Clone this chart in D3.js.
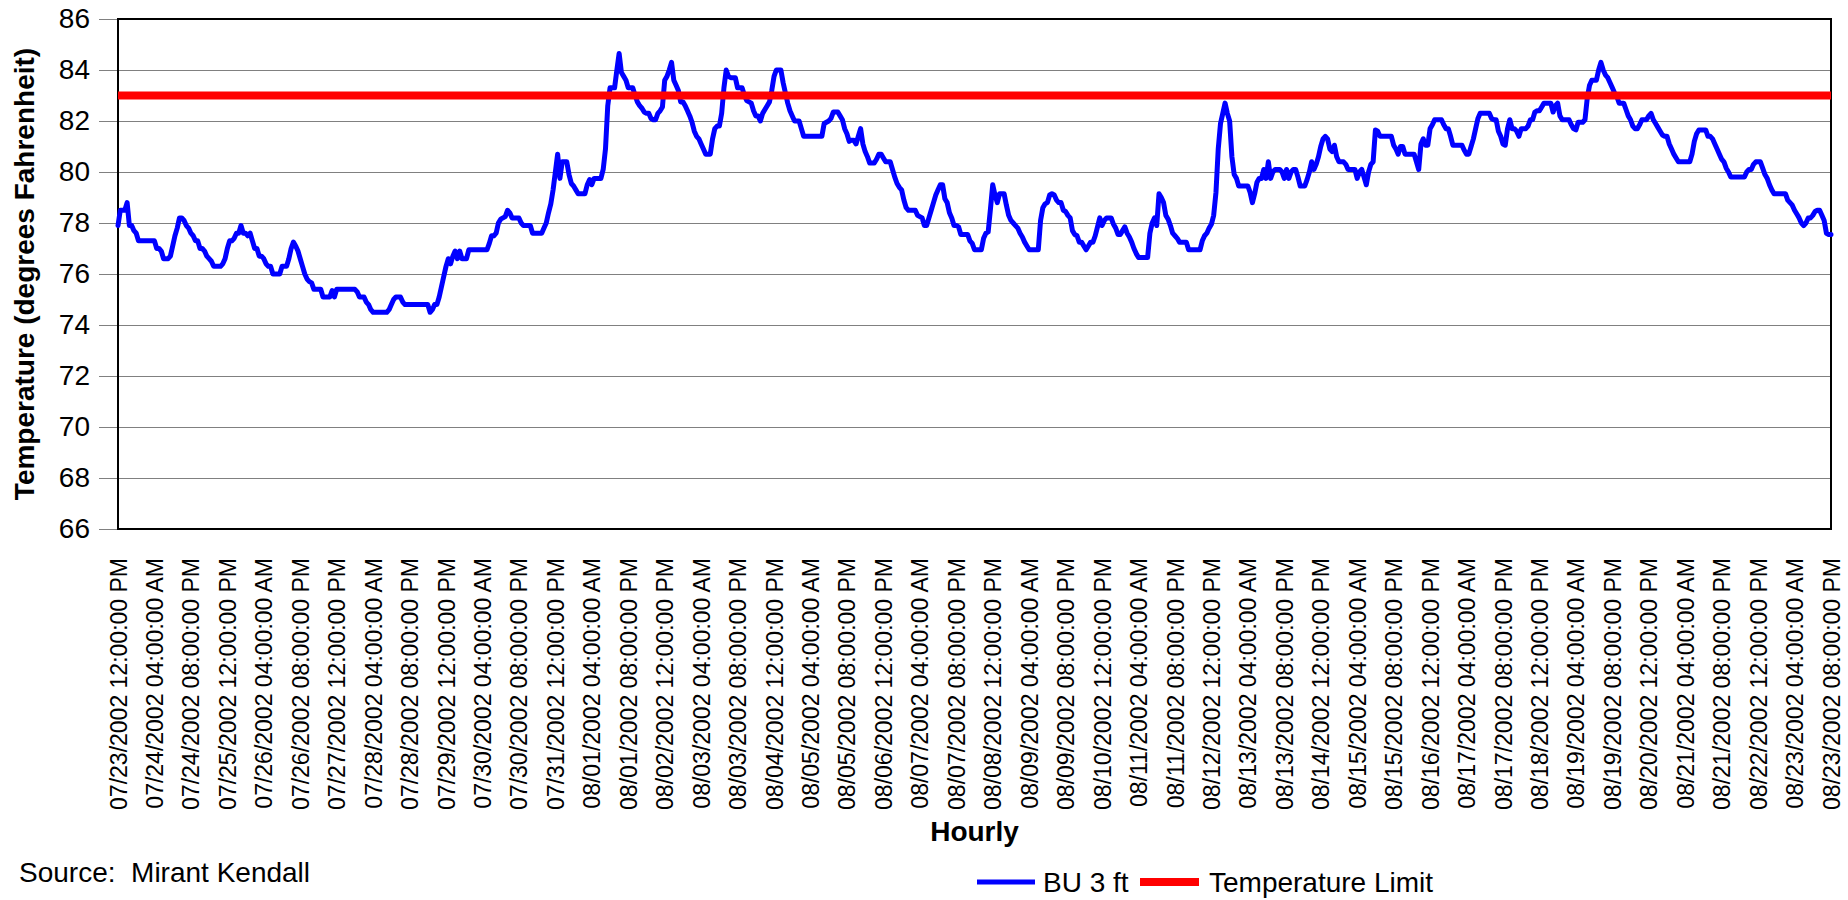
<!DOCTYPE html>
<html><head><meta charset="utf-8">
<script src="https://cdn.jsdelivr.net/npm/d3@7"></script>
<style>
body{margin:0;background:#fff}
svg{display:block}
text{font-family:"Liberation Sans",Arial,Helvetica,sans-serif;fill:#000}
</style>
</head><body>
<svg id="chart" width="1848" height="900"></svg>
<script>
// ---------------- data ----------------
const seriesName = "BU 3 ft";
const limitName = "Temperature Limit";
const limitValue = 83;
const yTicks = [66, 68, 70, 72, 74, 76, 78, 80, 82, 84, 86];
const tickEvery = 16; // one label every 16 hourly readings
const xTickLabels = [
"07/23/2002 12:00:00 PM","07/24/2002 04:00:00 AM","07/24/2002 08:00:00 PM","07/25/2002 12:00:00 PM",
"07/26/2002 04:00:00 AM","07/26/2002 08:00:00 PM","07/27/2002 12:00:00 PM","07/28/2002 04:00:00 AM",
"07/28/2002 08:00:00 PM","07/29/2002 12:00:00 PM","07/30/2002 04:00:00 AM","07/30/2002 08:00:00 PM",
"07/31/2002 12:00:00 PM","08/01/2002 04:00:00 AM","08/01/2002 08:00:00 PM","08/02/2002 12:00:00 PM",
"08/03/2002 04:00:00 AM","08/03/2002 08:00:00 PM","08/04/2002 12:00:00 PM","08/05/2002 04:00:00 AM",
"08/05/2002 08:00:00 PM","08/06/2002 12:00:00 PM","08/07/2002 04:00:00 AM","08/07/2002 08:00:00 PM",
"08/08/2002 12:00:00 PM","08/09/2002 04:00:00 AM","08/09/2002 08:00:00 PM","08/10/2002 12:00:00 PM",
"08/11/2002 04:00:00 AM","08/11/2002 08:00:00 PM","08/12/2002 12:00:00 PM","08/13/2002 04:00:00 AM",
"08/13/2002 08:00:00 PM","08/14/2002 12:00:00 PM","08/15/2002 04:00:00 AM","08/15/2002 08:00:00 PM",
"08/16/2002 12:00:00 PM","08/17/2002 04:00:00 AM","08/17/2002 08:00:00 PM","08/18/2002 12:00:00 PM",
"08/19/2002 04:00:00 AM","08/19/2002 08:00:00 PM","08/20/2002 12:00:00 PM","08/21/2002 04:00:00 AM",
"08/21/2002 08:00:00 PM","08/22/2002 12:00:00 PM","08/23/2002 04:00:00 AM","08/23/2002 08:00:00 PM"
];
// hourly readings, 07/23/2002 12:00 PM -> 08/23/2002 08:00 PM
const bu3ft = [
77.9,78.5,78.5,78.5,78.8,77.9,77.9,77.7,77.6,77.3,
77.3,77.3,77.3,77.3,77.3,77.3,77.3,77.0,77.0,76.9,
76.6,76.6,76.6,76.7,77.1,77.5,77.8,78.2,78.2,78.1,
77.9,77.8,77.6,77.5,77.3,77.3,77.0,77.0,76.9,76.7,
76.6,76.5,76.3,76.3,76.3,76.3,76.4,76.6,77.0,77.3,
77.3,77.4,77.6,77.6,77.9,77.6,77.6,77.5,77.6,77.3,
77.0,77.0,76.7,76.7,76.6,76.4,76.3,76.3,76.0,76.0,
76.0,76.0,76.3,76.3,76.3,76.6,77.0,77.25,77.1,76.9,
76.6,76.3,76.0,75.8,75.7,75.65,75.4,75.4,75.4,75.4,
75.1,75.1,75.1,75.1,75.35,75.1,75.4,75.4,75.4,75.4,
75.4,75.4,75.4,75.4,75.4,75.3,75.1,75.1,75.1,74.9,
74.8,74.6,74.5,74.5,74.5,74.5,74.5,74.5,74.5,74.6,
74.8,75.0,75.1,75.1,75.1,74.9,74.8,74.8,74.8,74.8,
74.8,74.8,74.8,74.8,74.8,74.8,74.8,74.5,74.6,74.8,
74.8,75.1,75.5,75.9,76.3,76.6,76.4,76.7,76.9,76.6,
76.9,76.6,76.6,76.6,76.95,76.95,76.95,76.95,76.95,76.95,
76.95,76.95,76.95,77.2,77.5,77.5,77.6,78.0,78.15,78.2,
78.25,78.5,78.4,78.2,78.2,78.2,78.2,78.0,77.9,77.9,
77.9,77.9,77.6,77.6,77.6,77.6,77.6,77.8,78.0,78.4,
78.75,79.3,80.0,80.7,79.75,80.4,80.4,80.4,79.9,79.55,
79.45,79.3,79.15,79.15,79.15,79.15,79.5,79.7,79.5,79.75,
79.75,79.75,79.75,80.1,80.9,82.6,83.3,83.3,83.3,84.0,
84.65,83.9,83.75,83.6,83.3,83.3,83.3,83.0,82.75,82.6,
82.5,82.35,82.3,82.3,82.1,82.05,82.05,82.3,82.4,82.55,
83.6,83.75,84.0,84.3,83.6,83.4,83.2,82.75,82.75,82.6,
82.4,82.2,81.95,81.6,81.4,81.3,81.1,80.9,80.7,80.7,
80.7,81.3,81.7,81.8,81.8,82.3,83.3,84.0,83.75,83.7,
83.7,83.7,83.3,83.3,83.3,83.0,82.8,82.75,82.7,82.4,
82.2,82.2,82.0,82.3,82.45,82.6,82.75,83.2,83.75,84.0,
84.0,84.0,83.5,83.1,82.7,82.4,82.2,82.0,82.0,82.0,
81.7,81.4,81.4,81.4,81.4,81.4,81.4,81.4,81.4,81.4,
81.9,81.95,82.0,82.1,82.35,82.35,82.35,82.2,82.05,81.7,
81.5,81.2,81.25,81.25,81.1,81.4,81.7,81.1,80.8,80.6,
80.35,80.35,80.35,80.5,80.7,80.7,80.55,80.4,80.4,80.4,
80.1,79.8,79.55,79.4,79.3,78.9,78.6,78.5,78.5,78.5,
78.5,78.3,78.25,78.2,77.9,77.9,78.2,78.5,78.8,79.1,
79.3,79.5,79.5,78.95,78.8,78.4,78.2,77.9,77.9,77.85,
77.55,77.55,77.55,77.55,77.3,77.2,76.95,76.95,76.95,76.95,
77.4,77.6,77.65,78.55,79.5,79.1,78.8,79.15,79.15,79.15,
78.7,78.3,78.1,78.0,77.9,77.8,77.6,77.45,77.25,77.1,
76.95,76.95,76.95,76.95,76.95,78.1,78.6,78.75,78.8,79.1,
79.15,79.1,78.9,78.8,78.8,78.5,78.45,78.3,78.2,77.7,
77.55,77.5,77.25,77.25,77.1,76.95,77.1,77.25,77.25,77.5,
77.85,78.2,77.9,78.1,78.2,78.2,78.2,77.95,77.8,77.55,
77.55,77.7,77.85,77.6,77.45,77.25,77.0,76.8,76.65,76.65,
76.65,76.65,76.65,77.6,78.0,78.2,77.9,79.15,79.0,78.8,
78.3,78.15,77.9,77.6,77.5,77.4,77.25,77.25,77.25,77.25,
76.95,76.95,76.95,76.95,76.95,76.95,77.3,77.5,77.6,77.8,
77.95,78.3,79.2,80.9,81.9,82.3,82.7,82.3,82.0,80.6,
79.9,79.75,79.45,79.45,79.45,79.45,79.45,79.2,78.8,79.15,
79.6,79.75,79.75,80.1,79.75,80.4,79.75,80.0,80.1,80.1,
80.1,80.0,79.75,80.1,79.75,80.0,80.1,80.1,79.8,79.45,
79.45,79.45,79.7,80.0,80.4,80.1,80.3,80.6,81.0,81.3,
81.4,81.3,80.9,80.8,81.05,80.6,80.4,80.4,80.4,80.3,
80.1,80.1,80.1,80.1,79.75,80.0,80.1,79.8,79.5,80.0,
80.3,80.4,81.65,81.6,81.4,81.4,81.4,81.4,81.4,81.4,
81.05,80.9,80.7,81.0,81.0,80.7,80.7,80.7,80.7,80.7,
80.4,80.1,81.1,81.3,81.05,81.05,81.7,81.85,82.05,82.05,
82.05,82.05,81.85,81.7,81.7,81.4,81.05,81.05,81.05,81.05,
81.05,80.85,80.7,80.7,81.0,81.3,81.7,82.1,82.3,82.3,
82.3,82.3,82.3,82.1,82.05,82.05,81.6,81.4,81.1,81.05,
81.7,82.05,81.7,81.7,81.6,81.4,81.7,81.7,81.7,81.8,
82.05,82.05,82.35,82.4,82.4,82.55,82.7,82.7,82.7,82.7,
82.35,82.6,82.7,82.2,82.05,82.05,82.05,82.05,81.85,81.7,
81.65,81.95,81.95,81.95,82.05,82.9,83.4,83.6,83.6,83.6,
84.0,84.3,84.0,83.8,83.7,83.5,83.3,83.1,82.95,82.7,
82.7,82.7,82.45,82.2,82.05,81.8,81.7,81.7,81.85,82.05,
82.05,82.05,82.2,82.3,82.05,81.9,81.75,81.6,81.45,81.4,
81.4,81.1,80.9,80.7,80.55,80.4,80.4,80.4,80.4,80.4,
80.4,80.7,81.2,81.5,81.65,81.65,81.65,81.65,81.4,81.4,
81.3,81.1,80.9,80.7,80.5,80.4,80.15,80.0,79.8,79.8,
79.8,79.8,79.8,79.8,79.8,80.0,80.1,80.1,80.3,80.4,
80.4,80.4,80.15,79.9,79.75,79.5,79.3,79.15,79.15,79.15,
79.15,79.15,79.15,78.9,78.8,78.7,78.5,78.35,78.2,78.0,
77.9,78.0,78.2,78.2,78.3,78.45,78.5,78.5,78.3,78.1,
77.6,77.55,77.55
];

// ---------------- layout ----------------
const W = 1848, H = 900;
const plot = {left: 118, right: 1831, top: 19, bottom: 529};
const svg = d3.select("#chart");

const x = d3.scaleLinear().domain([0, bu3ft.length - 1]).range([plot.left, plot.right]);
const y = d3.scaleLinear().domain([66, 86]).range([plot.bottom, plot.top]);

// gridlines + y labels (ticks extend left of the frame)
const gridLen = plot.right - 99;
const yAxis = svg.append("g")
  .attr("transform", `translate(${plot.right},0)`)
  .call(d3.axisLeft(y).tickValues(yTicks).tickSize(gridLen).tickPadding(9).tickFormat(d3.format("d")));
yAxis.select(".domain").remove();
yAxis.selectAll(".tick line").attr("stroke", "#808080").attr("stroke-width", 1.2);
yAxis.selectAll(".tick text").style("font-size", "28px").attr("fill", "#000");

// x axis labels
const xTickVals = xTickLabels.map((_, i) => i * tickEvery);
const xAxis = svg.append("g")
  .attr("transform", `translate(0,${plot.bottom})`)
  .call(d3.axisBottom(x).tickValues(xTickVals).tickSize(0).tickFormat((d, i) => xTickLabels[i]));
xAxis.select(".domain").remove();
xAxis.selectAll(".tick text")
  .style("font-size", "23px").attr("fill", "#000")
  .attr("text-anchor", "end")
  .attr("transform", "rotate(-90)")
  .attr("x", -29).attr("y", 0).attr("dy", "0.35em");

// frame
svg.append("rect")
  .attr("x", plot.left).attr("y", plot.top)
  .attr("width", plot.right - plot.left).attr("height", plot.bottom - plot.top)
  .attr("fill", "none").attr("stroke", "#000").attr("stroke-width", 2);

// series line
const line = d3.line().x((d, i) => x(i)).y(d => y(d));
svg.append("path").datum(bu3ft)
  .attr("d", line).attr("fill", "none").attr("stroke", "#0000ff")
  .attr("stroke-width", 5).attr("stroke-linejoin", "round").attr("stroke-linecap", "round");

// limit line
svg.append("line")
  .attr("x1", x(0)).attr("x2", x(bu3ft.length - 1))
  .attr("y1", y(limitValue)).attr("y2", y(limitValue))
  .attr("stroke", "#ff0000").attr("stroke-width", 8);

// axis titles
svg.append("text")
  .attr("transform", `translate(34,${(plot.top + plot.bottom) / 2}) rotate(-90)`)
  .attr("text-anchor", "middle").style("font-size", "28px").style("font-weight", "bold")
  .text("Temperature (degrees Fahrenheit)");
svg.append("text")
  .attr("x", (plot.left + plot.right) / 2).attr("y", 841)
  .attr("text-anchor", "middle").style("font-size", "28px").style("font-weight", "bold")
  .text("Hourly");

// source note
svg.append("text")
  .attr("x", 19).attr("y", 882).attr("xml:space", "preserve").style("white-space", "pre")
  .style("font-size", "28px").text("Source:  Mirant Kendall");

// legend
const legend = svg.append("g");
const legendItems = [
  {name: seriesName, color: "#0000ff", width: 5, x0: 977, x1: 1035, tx: 1043},
  {name: limitName, color: "#ff0000", width: 8, x0: 1140, x1: 1199, tx: 1209}
];
const ly = 882;
legendItems.forEach(it => {
  legend.append("line").attr("x1", it.x0).attr("x2", it.x1).attr("y1", ly).attr("y2", ly)
    .attr("stroke", it.color).attr("stroke-width", it.width);
  legend.append("text").attr("x", it.tx).attr("y", ly).attr("dy", "0.35em")
    .style("font-size", "28px").text(it.name);
});
</script>
</body></html>
